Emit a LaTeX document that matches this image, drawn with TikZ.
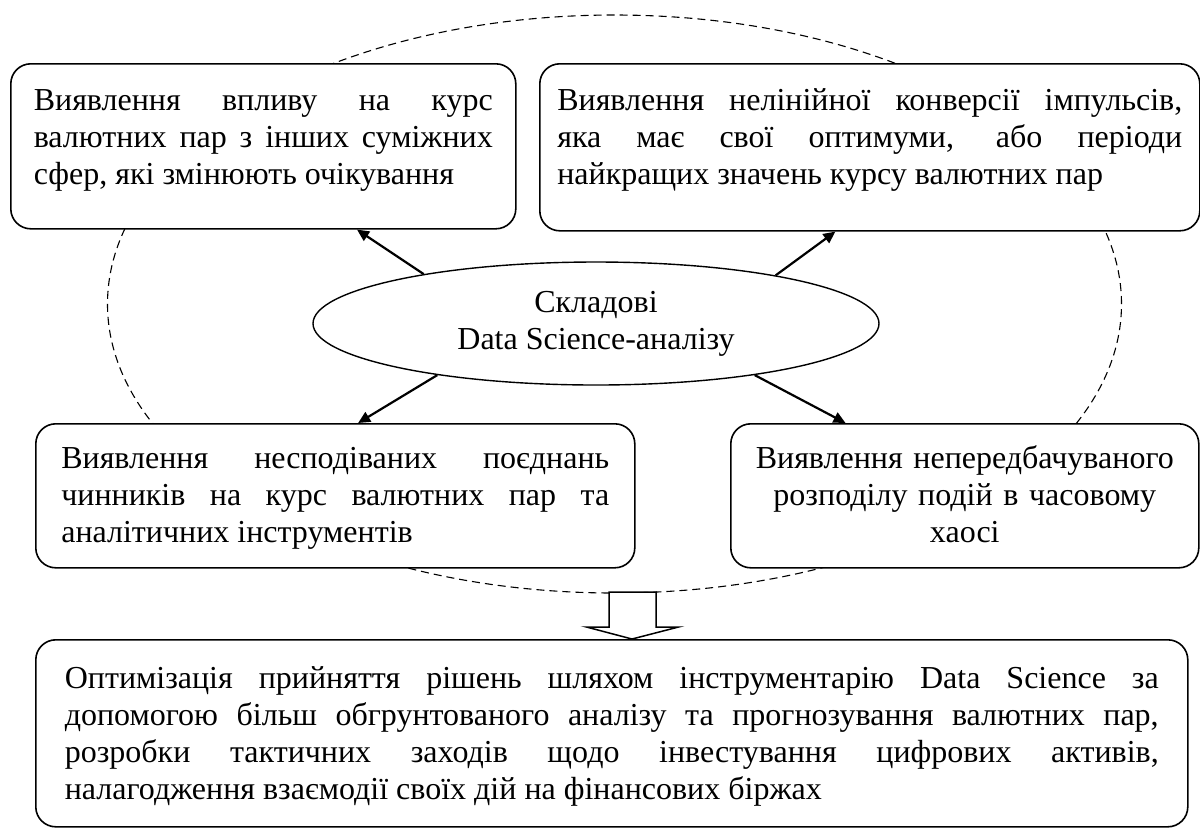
\documentclass[tikz,border=0pt]{standalone}
\usepackage{fontspec}
\setmainfont{Liberation Serif}
\usepackage{tikz}
\usetikzlibrary{arrows.meta, calc, shapes.geometric}
\tolerance=10000
\hbadness=10000

\begin{document}
\begin{tikzpicture}[x=0.5pt, y=-0.5pt,
  box/.style={draw, fill=white, line width=0.8pt, rounded corners=10pt, inner sep=0pt,
    align=justify, anchor=north west, font=\fontsize{16pt}{18.5pt}\selectfont},
  hub/.style={draw, fill=white, ellipse, line width=0.7pt, inner sep=0pt, align=center,
    minimum width=283pt, minimum height=61.5pt, font=\fontsize{16pt}{18.5pt}\selectfont},
  link/.style={->, line width=1.1pt},
  hollow/.style={draw, fill=white, line width=0.75pt},
  >={Triangle[length=6pt, width=5.5pt]}]
  \path[use as bounding box, fill=white] (0,0) rectangle (1200,827);
  % dashed contour behind the blocks
  \draw[line width=0.55pt, dash pattern=on 4pt off 2.5pt]
    (614.5,304) ellipse [x radius=253.5pt, y radius=144.5pt];

  \node[box, minimum width=252.5pt, text width=229.5pt, text height=23.5pt, text depth=59pt]
    (infl) at (10,63) {Виявлення впливу на курс\linebreak валютних пар з інших суміжних\linebreak сфер, які змінюють очікування};
  \node[box, minimum width=330pt, text width=312.5pt, text height=23.5pt, text depth=60pt]
    (conv) at (539,63) {Виявлення нелінійної конверсії імпульсів,\linebreak яка має свої оптимуми, або періоди\linebreak найкращих значень курсу валютних пар};
  \node[box, minimum width=299.5pt, text width=274pt, text height=22.5pt, text depth=49.5pt]
    (comb) at (35,423) {Виявлення несподіваних поєднань\linebreak чинників на курс валютних пар та\linebreak аналітичних інструментів};
  \node[box, align=center, minimum width=234pt, text width=234pt, text height=22.5pt, text depth=49.5pt]
    (chaos) at (730,423) {Виявлення непередбачуваного\\розподілу подій в часовому\\хаосі};
  \node[box, minimum width=576pt, text width=547pt, text height=24.5pt, text depth=69pt]
    (optim) at (35,639) {Оптимізація прийняття рішень шляхом інструментарію Data Science за\linebreak допомогою більш обгрунтованого аналізу та прогнозування валютних пар,\linebreak розробки тактичних заходів щодо інвестування цифрових активів,\linebreak налагодження взаємодії своїх дій на фінансових біржах};

  \node[hub] (sds) at (596,323.5) {Складові\\Data Science-аналізу};

  \foreach \ang/\a/\b/\pos in {164.8/infl.south west/infl.south east/0.685,
      15.7/conv.south west/conv.south east/0.448,
      198.6/comb.north west/comb.north east/0.538,
      342/chaos.north west/chaos.north east/0.246}
    \draw[link] (sds.\ang) -- ($(\a)!\pos!(\b)$);

  % block arrow into the conclusion
  \coordinate (tip) at ($(optim.north west)+(597,0)$);
  \draw[hollow] (tip) -- ++(-45.5,-12) -- ++(22.5,0) -- ++(0,-35) -- ++(47,0)
    -- ++(0,35) -- ++(22.5,0) -- cycle;
\end{tikzpicture}
\end{document}
